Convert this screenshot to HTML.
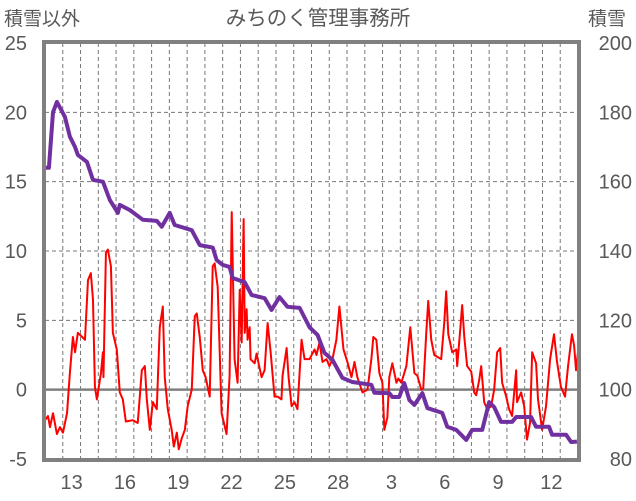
<!DOCTYPE html>
<html><head><meta charset="utf-8"><style>
body{margin:0;background:#fff;}
svg{display:block;font-family:"Liberation Sans","Noto Sans CJK JP",sans-serif;}
</style></head><body>
<svg id="chart" width="636" height="501" viewBox="0 0 636 501" xmlns="http://www.w3.org/2000/svg">
<text x="318" y="25" font-size="20.5" fill="#595959" text-anchor="middle">みちのく管理事務所</text>
<text x="4" y="25" font-size="19" fill="#595959">積雪以外</text>
<text x="588" y="25" font-size="19" fill="#595959">積雪</text>
<g id="grid"></g><g id="series"></g><g id="axes"></g>
</svg>
<script>
const leftTicks=[-5,0,5,10,15,20,25];
const rightTicks=[80,100,120,140,160,180,200];
const dayLabels=["13","16","19","22","25","28","3","6","9","12"];
const dayLabelIdx=[1,4,7,10,13,16,19,22,25,28];
const tRed=[0,.17,.28,.45,.67,.84,1.01,1.24,1.40,1.57,
1.69,1.85,2.25,2.42,2.58,2.70,2.81,2.92,3.15,3.26,
3.29,3.43,3.54,3.71,3.82,4.04,4.21,4.38,4.55,4.94,
5.22,5.45,5.62,5.73,5.90,6.07,6.29,6.46,6.63,6.74,
6.91,7.13,7.25,7.42,7.53,7.70,7.87,8.03,8.26,8.43,
8.54,8.71,8.88,9.04,9.27,9.44,9.55,9.72,9.94,10.22,
10.39,10.51,10.67,10.84,10.96,11.07,11.18,11.24,11.35,11.40,
11.52,11.57,11.80,11.91,12.02,12.19,12.36,12.53,12.70,12.92,
13.09,13.31,13.37,13.60,13.71,13.88,14.04,14.21,14.44,14.61,
14.89,15.17,15.28,15.45,15.62,15.84,16.01,16.18,16.40,16.57,
16.80,17.02,17.25,17.42,17.58,17.87,18.15,18.37,18.48,18.65,
18.82,18.99,19.10,19.27,19.38,19.55,19.78,19.89,20.06,20.34,
20.56,20.79,20.96,21.18,21.29,21.46,21.57,21.74,21.91,22.30,
22.47,22.58,22.70,22.92,23.15,23.20,23.37,23.48,23.60,23.76,
23.99,24.16,24.27,24.44,24.55,24.72,24.89,25.11,25.28,25.45,
25.62,25.73,25.96,26.12,26.29,26.52,26.57,26.80,26.97,27.13,
27.30,27.42,27.64,27.75,27.98,28.20,28.43,28.65,28.82,29.04,
29.27,29.44,29.66,29.78,29.89,30.0];
const vRed=[-2.2,-1.9,-2.7,-1.7,-3.2,-2.7,-3.1,-1.7,1.2,3.8,
2.7,4.1,3.6,7.9,8.4,6.5,0.2,-0.7,1.2,2.7,
0.9,9.9,10.1,8.9,4.1,2.9,-0.2,-0.7,-2.3,-2.2,
-2.4,1.4,1.7,-0.7,-2.9,-0.9,-1.4,4.5,6.0,0.9,
-1.4,-2.9,-4.1,-3.1,-4.3,-3.5,-2.9,-1.2,0,5.3,
5.5,3.8,1.4,0.9,-0.5,8.9,9.1,7.4,-1.7,-3.2,
1.0,12.8,2.2,0.5,7.2,3.4,12.3,4.1,5.8,3.6,
4.5,2.2,1.9,2.6,1.9,0.9,1.4,4.8,2.7,-0.5,
-0.5,-0.7,1.0,3.0,0.9,-1.2,-0.9,-1.4,3.6,2.2,
2.2,2.9,2.5,3.4,2.0,2.2,1.7,2.2,3.6,6.0,
2.9,2.0,0.9,2.0,0.9,-0.2,0,2.2,3.8,3.6,
1.2,0.5,-2.9,-2.0,0.9,1.9,0.5,0.8,0.5,1.7,
4.5,1.2,1.0,0,0.1,4.1,6.4,3.6,2.5,2.2,
4.8,7.1,4.0,2.7,2.9,1.7,4.3,6.1,3.8,1.7,
1.3,-0.2,-0.4,0.7,1.7,-0.9,-1.4,-1.2,0,2.7,
3.0,0.5,-0.5,-1.4,-1.9,1.4,-0.9,-0.2,-1.2,-3.6,
-2.4,2.7,1.9,-0.7,-2.9,-1.2,2.2,4.0,2.0,0.2,
-0.5,1.7,4.0,3.2,1.4,2.7];
const tSnow=[0,.22,.45,.67,1.12,1.40,1.69,1.85,2.36,2.70,
3.26,3.65,4.10,4.21,4.78,5.51,6.29,6.57,7.02,7.30,
8.26,8.71,9.44,9.66,10.0,10.39,10.56,11.24,11.63,12.36,
12.75,13.20,13.65,14.33,14.89,15.34,15.73,16.18,16.74,17.30,
18.37,18.54,19.38,19.55,19.94,20.22,20.51,20.79,21.24,21.52,
22.36,22.64,23.15,23.71,24.04,24.61,25.0,25.28,25.67,26.29,
26.52,27.36,27.64,28.37,28.54,29.33,29.61,29.94];
const vSnow=[164,164,180,183,178.7,173,170,167.7,165.7,160.5,
160,154.7,151,153.3,151.8,149,148.7,147,151,147.5,
146,141.7,141,137.4,136,135.4,132.2,131,127.3,126.4,
123,126.7,123.9,123.6,118,115.8,110.6,108.6,103.4,102.2,
101.4,99.1,99,97.9,97.9,101.9,97,95.6,99,94.7,
93.3,89.3,88.4,85.5,88.4,88.4,96.4,95,90.7,90.7,
92.1,92.1,89.3,89.3,87,87,84.9,85];

const X0=45,X1=578,Y0=43,Y1=459,NDAYS=30;
const xS=t=>X0+t*(X1-X0)/NDAYS;
const yL=v=>Y1-(v+5)*(Y1-Y0)/30;
const yR=v=>Y1-(v-80)*(Y1-Y0)/120;
const NS="http://www.w3.org/2000/svg";
function mk(tag,attrs,parent){const e=document.createElementNS(NS,tag);for(const k in attrs)e.setAttribute(k,attrs[k]);parent.appendChild(e);return e;}
const grid=document.getElementById('grid'),series=document.getElementById('series'),axes=document.getElementById('axes');
for(let d=1;d<NDAYS;d++){
 const l=mk('line',{x1:xS(d),x2:xS(d),y1:Y0,y2:Y1,stroke:'#777','stroke-width':1,'stroke-dasharray':'4,3'},grid);
 
 
}
leftTicks.forEach(v=>{
 if(v!==-5&&v!==25&&v!==0){
  const l=mk('line',{x1:X0,x2:X1,y1:yL(v),y2:yL(v),stroke:'#777','stroke-width':1,'stroke-dasharray':'4,3'},grid);
  
  
 }
 const t=mk('text',{x:27,y:yL(v)+7,'font-size':20,fill:'#595959','text-anchor':'end'},axes);
 t.textContent=v;
 
 
});
rightTicks.forEach(v=>{
 const t=mk('text',{x:632,y:yR(v)+7,'font-size':20,fill:'#595959','text-anchor':'end'},axes);
 t.textContent=v;
 
 
});
dayLabels.forEach((s,i)=>{
 const t=mk('text',{x:xS(dayLabelIdx[i]+0.5),y:489,'font-size':20,fill:'#595959','text-anchor':'middle'},axes);
 t.textContent=s;
 
 
});
const zl=mk('line',{x1:X0,x2:X1,y1:yL(0),y2:yL(0),stroke:'#808080','stroke-width':2.5},grid);


const pr=mk('polyline',{points:tRed.map((t,i)=>xS(t)+','+yL(vRed[i])).join(' '),fill:'none',stroke:'#ff0000','stroke-width':2,'stroke-linejoin':'round'},series);


const ps=mk('polyline',{points:tSnow.map((t,i)=>xS(t)+','+yR(vSnow[i])).join(' '),fill:'none',stroke:'#7030a0','stroke-width':4,'stroke-linejoin':'round'},series);


const fr=mk('rect',{x:X0-1,y:Y0-1,width:X1-X0+2,height:Y1-Y0+2,fill:'none',stroke:'#808080','stroke-width':4},axes);


</script>
</body></html>
